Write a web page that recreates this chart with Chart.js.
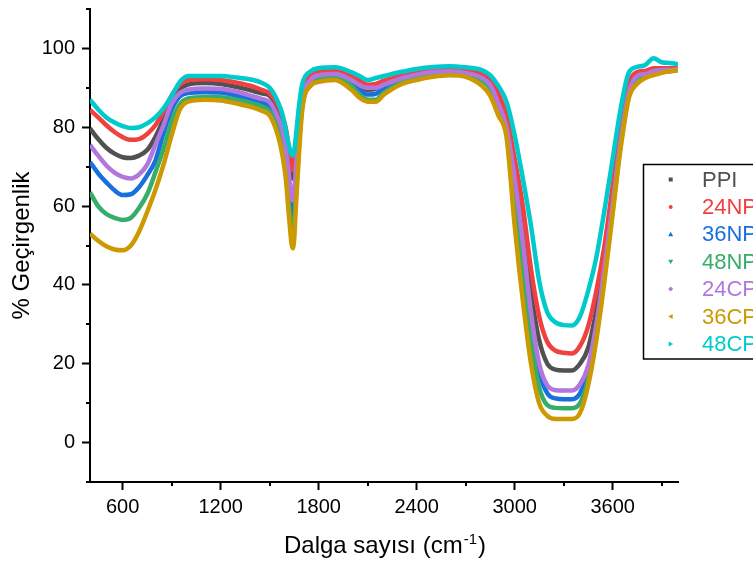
<!DOCTYPE html>
<html>
<head>
<meta charset="utf-8">
<script src="https://cdn.jsdelivr.net/npm/chart.js@4.4.1/dist/chart.umd.min.js"></script>
<style>
  html, body { margin: 0; padding: 0; background: #fff; }
</style>
</head>
<body>
<canvas id="ftir-chart" width="753" height="563"></canvas>
<script>
// Wavenumbers (cm-1) shared by every spectrum
const wavenumbers = [400, 450, 500, 550, 600, 650, 700, 750, 800, 850, 900, 950, 1000,
    1100, 1200, 1300, 1400, 1450, 1500, 1550,
    1580, 1600, 1620, 1640, 1650, 1660, 1680, 1700,
    1750, 1800, 1900, 2000, 2050, 2100, 2150, 2200,
    2300, 2400, 2500, 2600, 2700, 2800,
    2850, 2900, 2950, 3000, 3050, 3100, 3150, 3200, 3250, 3300, 3350, 3400,
    3450, 3500, 3550, 3600, 3650, 3700, 3750, 3800, 3850, 3900, 3950, 4000];

const seriesNames = ['PPI', '24NP', '36NP', '48NP', '24CP', '36CP', '48CP'];

const ppi = [79.7, 77.0, 74.8, 73.3, 72.4, 72.2, 72.8, 74.2, 77.5, 82.0, 87.0, 89.8, 90.8,
    91.2, 91.0, 90.2, 89.2, 88.6, 88.0, 84.6,
    81.0, 76.5, 71.0, 67.0, 68.5, 73.0, 82.5, 88.5,
    92.5, 93.5, 93.8, 92.0, 90.5, 89.5, 89.8, 90.8,
    92.3, 93.5, 94.0, 94.3, 94.0, 93.0,
    91.5, 87.0, 81.0, 69.0, 54.5, 38.0, 26.0, 20.0, 18.5, 18.3, 18.3, 20.0,
    24.0, 33.5, 46.0, 62.0, 78.0, 90.0, 93.3, 93.8, 94.5, 94.5, 94.6, 94.8];

const np24 = [84.4, 82.5, 80.5, 78.8, 77.5, 76.8, 77.0, 78.3, 80.5, 84.0, 88.0, 90.8, 92.0,
    92.2, 92.0, 91.3, 90.3, 89.5, 88.6, 85.6,
    82.5, 79.5, 74.0, 69.0, 71.0, 75.5, 84.0, 89.5,
    93.0, 94.0, 94.3, 93.0, 91.8, 90.8, 91.0, 91.8,
    93.0, 94.0, 94.6, 94.8, 94.5, 93.5,
    92.5, 88.5, 83.0, 72.0, 60.0, 44.0, 32.0, 25.5, 23.3, 22.8, 22.6, 24.5,
    29.5, 38.5, 50.0, 65.0, 80.0, 91.0, 94.0, 94.3, 95.0, 95.0, 95.0, 95.0];

const np36 = [71.2, 68.3, 66.0, 64.0, 62.8, 63.0, 64.8, 67.8, 71.5, 78.5, 84.5, 87.8, 88.7,
    88.9, 88.8, 88.0, 87.0, 86.3, 85.1, 80.8,
    76.5, 71.5, 63.5, 56.5, 58.5, 65.0, 78.0, 86.5,
    91.5, 92.8, 93.2, 91.5, 89.5, 88.3, 88.5, 89.8,
    91.8, 93.0, 93.8, 94.0, 93.6, 92.3,
    90.5, 85.5, 79.0, 65.0, 48.0, 30.0, 18.0, 12.5, 11.2, 11.0, 11.0, 12.5,
    18.0, 28.5, 43.5, 60.0, 76.5, 88.8, 92.8, 93.3, 94.0, 94.3, 94.3, 94.6];

const np48 = [63.5, 60.0, 58.0, 57.0, 56.5, 57.0, 59.5, 63.0, 68.5, 74.5, 81.5, 85.8, 87.3,
    87.6, 87.6, 87.0, 86.0, 85.3, 84.0, 79.5,
    74.5, 69.0, 59.5, 53.0, 55.0, 62.5, 76.0, 85.5,
    91.0, 92.3, 92.7, 90.5, 88.3, 87.0, 87.0, 88.8,
    91.2, 92.7, 93.5, 93.7, 93.3, 91.8,
    89.8, 84.5, 79.0, 62.0, 43.0, 26.0, 14.0, 9.5, 8.8, 8.7, 8.7, 10.0,
    16.0, 27.5, 42.5, 59.0, 76.0, 88.5, 92.5, 93.0, 93.8, 94.0, 94.2, 94.5];

const cp24 = [75.5, 72.8, 70.3, 68.5, 67.4, 67.0, 68.0, 70.5, 75.5, 80.5, 86.0, 88.7, 89.5,
    89.8, 89.7, 89.0, 87.8, 87.2, 86.4, 82.5,
    79.0, 74.0, 67.0, 61.5, 63.5, 69.0, 80.5, 87.5,
    92.0, 93.2, 93.5, 92.0, 90.7, 90.0, 90.0, 90.8,
    92.3, 93.3, 94.0, 94.2, 93.8, 92.5,
    90.8, 86.0, 80.0, 67.0, 51.0, 33.0, 20.0, 14.5, 13.3, 13.2, 13.2, 14.8,
    19.5, 30.0, 44.5, 60.5, 77.0, 89.0, 93.0, 93.5, 94.2, 94.5, 94.5, 94.8];

const cp36 = [53.0, 51.2, 49.8, 49.0, 48.8, 50.0, 53.5, 58.5, 64.0, 70.5, 78.0, 84.5, 86.5,
    87.0, 86.8, 86.0, 85.0, 84.2, 83.0, 78.0,
    72.5, 66.5, 56.5, 49.3, 51.5, 59.5, 73.5, 84.5,
    90.5, 91.5, 92.0, 89.5, 87.5, 86.5, 86.5, 88.3,
    90.8, 92.0, 92.8, 93.2, 92.8, 90.5,
    88.0, 83.0, 77.5, 55.0, 36.0, 20.0, 10.0, 6.8, 6.0, 6.0, 6.0, 7.5,
    14.5, 26.0, 41.0, 58.0, 75.0, 87.5, 91.0, 92.5, 93.2, 93.8, 94.2, 94.5];

const cp48 = [87.0, 84.5, 82.5, 81.2, 80.3, 79.8, 80.0, 81.0, 82.5, 84.8, 88.0, 91.5, 93.0,
    93.0, 93.0, 92.6, 92.0, 91.3, 90.0, 86.5,
    83.0, 79.0, 75.0, 72.8, 74.0, 77.5, 85.5, 91.0,
    94.2, 95.0, 95.2, 94.0, 93.0, 92.0, 92.5, 93.0,
    94.0, 94.8, 95.3, 95.5, 95.2, 94.5,
    93.2, 90.5, 86.5, 78.0, 67.0, 55.0, 41.0, 33.0, 30.5, 29.8, 29.7, 32.0,
    38.5, 47.0, 59.0, 72.0, 85.0, 94.0, 95.3, 95.8, 97.5, 96.5, 96.3, 96.0];

const xMajorTicks = [600, 1200, 1800, 2400, 3000, 3600];
const xMinorTicks = [900, 1500, 2100, 2700, 3300, 3900];
const yMajorTicks = [0, 20, 40, 60, 80, 100];
const yMinorTicks = [-10, 10, 30, 50, 70, 90, 110];

const seriesValues = [ppi, np24, np36, np48, cp24, cp36, cp48];
const seriesColors = ['#515151', '#F14040', '#1A6FDF', '#37AD6B', '#B177DE', '#CC9900', '#00CBCC'];
const markerShapes = ['square', 'circle', 'up', 'down', 'diamond', 'left', 'right'];

const FONT = 'Arial, "Liberation Sans", sans-serif';
Chart.defaults.font.family = FONT;
Chart.defaults.color = '#000';

// Minor ticks, x axis title with superscript and the boxed legend
const ftirDecorations = {
    id: 'ftirDecorations',
    afterDraw(chart) {
        const ctx = chart.ctx;
        const area = chart.chartArea;
        const xs = chart.scales.x;
        const ys = chart.scales.y;
        ctx.save();

        // minor ticks
        ctx.strokeStyle = '#000';
        ctx.lineWidth = 2;
        ctx.beginPath();
        xMinorTicks.forEach(v => {
            const px = Math.round(xs.getPixelForValue(v));
            ctx.moveTo(px, area.bottom);
            ctx.lineTo(px, area.bottom + 4);
        });
        yMinorTicks.forEach(v => {
            const py = Math.round(ys.getPixelForValue(v));
            ctx.moveTo(area.left, py);
            ctx.lineTo(area.left - 4, py);
        });
        ctx.stroke();

        // x axis title: Dalga sayısı (cm^-1)
        const cx = (area.left + area.right) / 2;
        const base = 553;
        const main1 = 'Dalga sayısı (cm';
        const sup = '-1';
        const main2 = ')';
        ctx.fillStyle = '#000';
        ctx.textBaseline = 'alphabetic';
        ctx.textAlign = 'left';
        ctx.font = '24px ' + FONT;
        const w1 = ctx.measureText(main1).width;
        const w3 = ctx.measureText(main2).width;
        ctx.font = '15px ' + FONT;
        const w2 = ctx.measureText(sup).width;
        let x0 = cx - (w1 + w2 + w3) / 2;
        ctx.font = '24px ' + FONT;
        ctx.fillText(main1, x0, base);
        ctx.font = '15px ' + FONT;
        ctx.fillText(sup, x0 + w1 + 1, base - 9);
        ctx.font = '24px ' + FONT;
        ctx.fillText(main2, x0 + w1 + w2 + 2, base);

        // legend box
        const lx = 643.5, ly = 164.5, rowH = 27.4;
        ctx.fillStyle = '#fff';
        ctx.fillRect(lx, ly, 200, 194.5);
        ctx.strokeStyle = '#000';
        ctx.lineWidth = 1.5;
        ctx.strokeRect(lx, ly, 200, 194.5);

        ctx.font = '22px ' + FONT;
        ctx.textBaseline = 'middle';
        seriesNames.forEach((name, i) => {
            const my = ly + 15 + i * rowH;
            const mx = 670.7;
            const s = 2;
            ctx.fillStyle = seriesColors[i];
            ctx.beginPath();
            switch (markerShapes[i]) {
                case 'square': ctx.rect(mx - s, my - s, 2 * s, 2 * s); break;
                case 'circle': ctx.arc(mx, my, s, 0, Math.PI * 2); break;
                case 'up': ctx.moveTo(mx, my - s - 0.5); ctx.lineTo(mx + s + 0.5, my + s); ctx.lineTo(mx - s - 0.5, my + s); break;
                case 'down': ctx.moveTo(mx, my + s + 0.5); ctx.lineTo(mx + s + 0.5, my - s); ctx.lineTo(mx - s - 0.5, my - s); break;
                case 'diamond': ctx.moveTo(mx, my - s - 0.5); ctx.lineTo(mx + s + 0.5, my); ctx.lineTo(mx, my + s + 0.5); ctx.lineTo(mx - s - 0.5, my); break;
                case 'left': ctx.moveTo(mx - s - 0.5, my); ctx.lineTo(mx + s, my - s - 0.5); ctx.lineTo(mx + s, my + s + 0.5); break;
                case 'right': ctx.moveTo(mx + s + 0.5, my); ctx.lineTo(mx - s, my - s - 0.5); ctx.lineTo(mx - s, my + s + 0.5); break;
            }
            ctx.closePath();
            ctx.fill();
            ctx.fillText(name, 702, my + 1);
        });
        ctx.restore();
    }
};

const datasets = seriesNames.map((name, i) => ({
    label: name,
    data: wavenumbers.map((w, k) => ({x: w, y: seriesValues[i][k]})),
    borderColor: seriesColors[i],
    backgroundColor: seriesColors[i],
    borderWidth: 4.5,
    pointRadius: 0,
    fill: false,
    cubicInterpolationMode: 'monotone',
    // last series is drawn on top, like the original plot
    order: seriesNames.length - i
}));

new Chart(document.getElementById('ftir-chart'), {
    type: 'line',
    data: {datasets: datasets},
    options: {
        responsive: false,
        devicePixelRatio: 1,
        animation: false,
        layout: {padding: {top: 9, right: 75, left: 0, bottom: 0}},
        plugins: {
            legend: {display: false},
            tooltip: {enabled: false}
        },
        scales: {
            x: {
                type: 'linear',
                min: 400,
                max: 4000,
                afterBuildTicks: scale => {
                    scale.ticks = xMajorTicks.map(v => ({value: v}));
                },
                afterFit: scale => {
                    scale.height = 81;
                    scale.paddingLeft = 0;
                    scale.paddingRight = 0;
                },
                ticks: {
                    autoSkip: false,
                    maxRotation: 0,
                    padding: 5,
                    font: {size: 20},
                    color: '#000',
                    callback: v => String(v)
                },
                grid: {
                    drawOnChartArea: false,
                    drawTicks: true,
                    tickLength: 8,
                    tickWidth: 2,
                    tickColor: '#000'
                },
                border: {display: true, color: '#000', width: 2}
            },
            y: {
                type: 'linear',
                min: -10,
                max: 110,
                afterBuildTicks: scale => {
                    scale.ticks = yMajorTicks.map(v => ({value: v}));
                },
                afterFit: scale => {
                    scale.width = 90;
                    scale.paddingTop = 0;
                    scale.paddingBottom = 0;
                },
                ticks: {
                    autoSkip: false,
                    padding: 7,
                    font: {size: 20},
                    color: '#000',
                    callback: v => String(v)
                },
                grid: {
                    drawOnChartArea: false,
                    drawTicks: true,
                    tickLength: 8,
                    tickWidth: 2,
                    tickColor: '#000'
                },
                border: {display: true, color: '#000', width: 2},
                title: {
                    display: true,
                    text: '% Geçirgenlik',
                    font: {size: 24},
                    color: '#000',
                    padding: {top: 8, bottom: 0}
                }
            }
        }
    },
    plugins: [ftirDecorations]
});
</script>
</body>
</html>
